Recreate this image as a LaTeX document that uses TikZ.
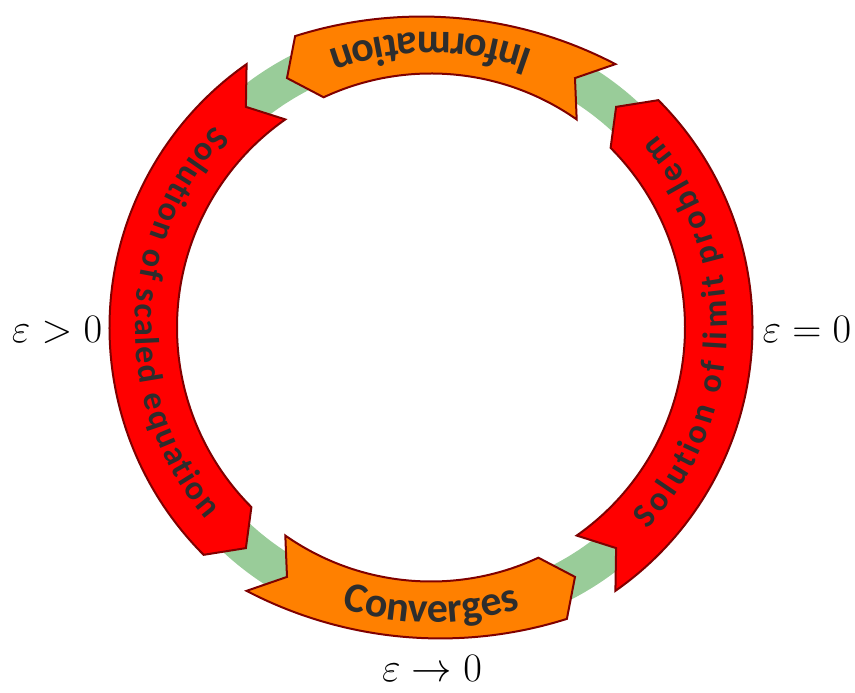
\documentclass[tikz,border=0pt]{standalone}
\usepackage{fontspec}
\newfontfamily\bandfont{Carlito}
\usetikzlibrary{decorations.text}
\definecolor{ringgreen}{RGB}{153,204,153}
\definecolor{bandred}{RGB}{255,0,0}
\definecolor{bandorange}{RGB}{255,128,0}
\definecolor{edgered}{RGB}{128,0,0}
\definecolor{textgray}{RGB}{45,45,45}
\newcommand\orangetextfont{\bandfont\bfseries\fontsize{42}{42}\selectfont}
\newcommand\redtextfont{\bandfont\bfseries\fontsize{34}{34}\selectfont}
\begin{document}
\begin{tikzpicture}[
  band/.style={draw=edgered, line width=2pt, line join=miter},
  redband/.style={band, fill=bandred},
  orangeband/.style={band, fill=bandorange},
  orangelabel/.style={decorate, decoration={text along path, text align=center, text color=textgray, text={|\orangetextfont|#1}}},
  redlabel/.style={font=\redtextfont, decorate, decoration={text effects along path, text={#1},
      text effects/.cd, text along path, fit text to path,
      characters={text=textgray, font=\redtextfont},
      character widths={font=\redtextfont}}},
  epslabel/.style={font=\huge, scale=1.95, inner sep=0pt, anchor=base}
]
\useasboundingbox (0,0) rectangle (855pt,693pt);
\coordinate (C) at (431pt,365.5pt);
\begin{scope}[shift={(C)}]
  % green ring
  \draw[ringgreen, line width=39pt] (0,0) circle (286.5pt);
  % right red band (tail -55, head 45)
  \draw[redband] (-55:254pt) arc (-55:45:254pt) -- (50:288pt) -- (45:321.5pt)
     arc (45:-55:321.5pt) -- (-50:288pt) -- cycle;
  % left red band (tail 125, head 225)
  \draw[redband] (125:254pt) arc (125:225:254pt) -- (230:288pt) -- (225:321.5pt)
     arc (225:125:321.5pt) -- (130:288pt) -- cycle;
  % top orange band (tail 55, head 115)
  \draw[orangeband] (55:254pt) arc (55:115:254pt) -- (120:288pt) -- (115:321.5pt)
     arc[start angle=107.59, end angle=62.41, radius=418.5pt] -- (60:288pt) -- cycle;
  % bottom orange band (tail 235, head 295)
  \draw[orangeband] (235:254pt) arc (235:295:254pt) -- (300:288pt) -- (295:321.5pt)
     arc[start angle=287.59, end angle=242.41, radius=418.5pt] -- (240:288pt) -- cycle;
  % texts along the bands
  \path[redlabel={Solution of limit problem}] (-43:296pt) arc (-43:40.5:296pt);
  \path[orangelabel={Information}] (60:295pt) arc (60:120:295pt);
  \path[redlabel={Solution of scaled equation}] (137:296pt) arc (137:220.5:296pt);
  \path[orangelabel={Converges}] (240:295pt) arc (240:300:295pt);
\end{scope}
\node[epslabel] (epsgt) at (57pt,350pt) {$\varepsilon>0$};
\node[epslabel] (epseq) at (807pt,350pt) {$\varepsilon=0$};
\node[epslabel] (epsto) at (432pt,11pt) {$\varepsilon\to0$};
\end{tikzpicture}
\end{document}
